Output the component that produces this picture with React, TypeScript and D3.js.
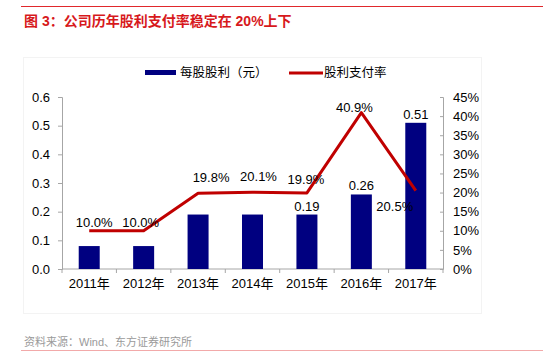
import React, { useEffect, useRef } from 'react';
import * as d3 from 'd3';

const years = ['2011年', '2012年', '2013年', '2014年', '2015年', '2016年', '2017年'];
const dps = [0.08, 0.08, 0.19, 0.19, 0.19, 0.26, 0.51];
const dpsLabels = ['', '', '', '', '0.19', '0.26', '0.51'];
const payout = [10.0, 10.0, 19.8, 20.1, 19.9, 40.9, 20.5];
const leftTicks = [0, 0.1, 0.2, 0.3, 0.4, 0.5, 0.6];
const rightTicks = [0, 5, 10, 15, 20, 25, 30, 35, 40, 45];

// manual nudges for the payout labels (Excel placed them by hand)
const payoutLabelOffsets: [number, number][] = [
  [5, -4], [-3, -4], [13, -11], [6, -11], [-1, -9], [-7, -1], [-21, 20],
];

const FONT = '"Liberation Sans", Arial, "Noto Sans CJK SC", sans-serif';

const App: React.FC = () => {
  const svgRef = useRef<SVGSVGElement>(null);

  useEffect(() => {
    const svg = d3.select(svgRef.current);
    svg.selectAll('*').remove();

    const W = 543, H = 361;
    const margin = { left: 62, right: 100, top: 97, bottom: 92 };
    const plotW = W - margin.left - margin.right;
    const plotH = H - margin.top - margin.bottom;

    // header / footer rules
    svg.append('line').attr('x1', 21).attr('x2', W).attr('y1', 6.5).attr('y2', 6.5)
      .attr('stroke', '#e0282c').attr('stroke-width', 1.2);
    svg.append('text').attr('x', 24).attr('y', 26)
      .style('font-family', FONT).style('font-size', '14px').style('font-weight', 'bold')
      .attr('fill', '#d7191c').text('图 3：公司历年股利支付率稳定在 20%上下');

    svg.append('rect').attr('x', 23.5).attr('y', 57.5).attr('width', 458).attr('height', 256)
      .attr('fill', 'none').attr('stroke', '#f3f3f3');

    svg.append('line').attr('x1', 21).attr('x2', W).attr('y1', 350.5).attr('y2', 350.5)
      .attr('stroke', '#f2a9a9').attr('stroke-width', 1.2);
    svg.append('text').attr('x', 24).attr('y', 346)
      .style('font-family', FONT).style('font-size', '11px')
      .attr('fill', '#9a9a9a').text('资料来源：Wind、东方证券研究所');

    const g = svg.append('g').attr('transform', `translate(${margin.left},${margin.top})`);

    const x = d3.scaleBand().domain(years).range([0, plotW]).paddingInner(0).paddingOuter(0);
    const yL = d3.scaleLinear().domain([0, 0.6]).range([plotH, 0]);
    const yR = d3.scaleLinear().domain([0, 45]).range([plotH, 0]);
    const barW = 21;

    const axisColor = '#a6a6a6';

    // left axis
    const left = g.append('g').call(
      d3.axisLeft(yL).tickValues(leftTicks).tickFormat(d3.format('.1f')).tickSize(4).tickPadding(8)
    );
    // right axis
    const right = g.append('g').attr('transform', `translate(${plotW},0)`).call(
      d3.axisRight(yR).tickValues(rightTicks).tickFormat(d => `${d}%`).tickSize(-3).tickPadding(10)
    );
    // bottom axis with ticks at category boundaries
    const bottom = g.append('g').attr('transform', `translate(0,${plotH})`).call(
      d3.axisBottom(x).tickSize(0).tickPadding(10)
    );
    const bounds = d3.range(years.length + 1).map(i => i * x.step());
    bottom.selectAll('.bound').data(bounds).enter().append('line')
      .attr('x1', d => d).attr('x2', d => d).attr('y1', 0).attr('y2', 4)
      .attr('stroke', axisColor);

    [left, right, bottom].forEach(a => {
      a.select('.domain').attr('stroke', axisColor);
      a.selectAll('.tick line').attr('stroke', axisColor);
      a.selectAll('text').style('font-family', FONT).style('font-size', '13px').attr('fill', '#000');
    });
    bottom.select('.domain').attr('d', `M0,0H${plotW}`);

    // bars
    g.selectAll('.bar').data(dps).enter().append('rect')
      .attr('x', (_, i) => (x(years[i]) || 0) + x.bandwidth() / 2 - barW / 2)
      .attr('y', d => yL(d))
      .attr('width', barW)
      .attr('height', d => plotH - yL(d))
      .attr('fill', '#000080');

    g.selectAll('.barLabel').data(dpsLabels).enter().append('text')
      .attr('x', (_, i) => (x(years[i]) || 0) + x.bandwidth() / 2)
      .attr('y', (_, i) => yL(dps[i]) - 4)
      .attr('text-anchor', 'middle')
      .style('font-family', FONT).style('font-size', '13px')
      .text(d => d);

    // payout line
    const line = d3.line<number>()
      .x((_, i) => (x(years[i]) || 0) + x.bandwidth() / 2)
      .y(d => yR(d));
    g.append('path').datum(payout)
      .attr('fill', 'none').attr('stroke', '#c00000').attr('stroke-width', 3)
      .attr('stroke-linejoin', 'round')
      .attr('d', line);

    g.selectAll('.payLabel').data(payout).enter().append('text')
      .attr('x', (_, i) => (x(years[i]) || 0) + x.bandwidth() / 2 + payoutLabelOffsets[i][0])
      .attr('y', (d, i) => yR(d) + payoutLabelOffsets[i][1])
      .attr('text-anchor', 'middle')
      .style('font-family', FONT).style('font-size', '13px')
      .text(d => `${d.toFixed(1)}%`);

    // legend
    const lg = svg.append('g');
    lg.append('rect').attr('x', 145).attr('y', 70).attr('width', 31).attr('height', 5).attr('fill', '#000080');
    lg.append('text').attr('x', 180).attr('y', 77)
      .style('font-family', FONT).style('font-size', '12.5px').text('每股股利（元）');
    lg.append('line').attr('x1', 289).attr('x2', 323).attr('y1', 73).attr('y2', 73)
      .attr('stroke', '#c00000').attr('stroke-width', 3);
    lg.append('text').attr('x', 324).attr('y', 77)
      .style('font-family', FONT).style('font-size', '12.5px').text('股利支付率');
  }, []);

  return (
    <svg
      ref={svgRef}
      width={543}
      height={361}
      style={{ position: 'absolute', left: 0, top: 0, background: '#fff' }}
    />
  );
};

export default App;
